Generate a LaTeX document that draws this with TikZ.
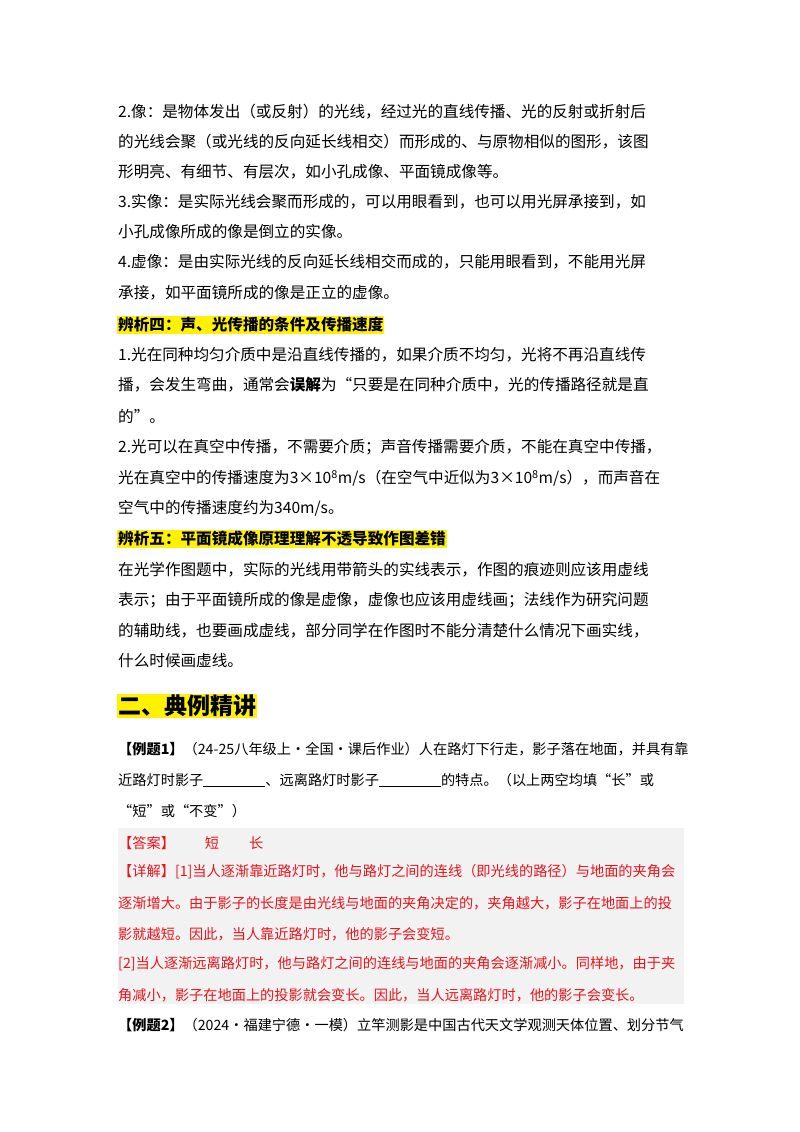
\documentclass[tikz,border=0pt]{standalone}
\usepackage{fontspec}
\setmainfont{Noto Sans CJK SC}
\newfontfamily\cjk{Noto Sans CJK SC}
\definecolor{ansred}{HTML}{E8141A}
\definecolor{boxgray}{HTML}{F2F2F2}
\tikzset{ln/.style={anchor=west,inner sep=0pt,font=\fontsize{15.6}{18}\selectfont},
 sm/.style={anchor=west,inner sep=0pt,font=\fontsize{14.2}{17}\selectfont},
 hl/.style={anchor=west,inner sep=1pt,fill=yellow,font=\fontsize{15.6}{18}\selectfont\bfseries},
 red/.style={text=ansred}}
\newcommand{\blank}{\rule[-2pt]{62pt}{0.9pt}}
\begin{document}
\begin{tikzpicture}[x=1pt,y=-1pt]
\useasboundingbox[fill=white] (0,0) rectangle (800,1132);
\node[ln] (l1) at (118,112) {2.像：是物体发出（或反射）的光线，经过光的直线传播、光的反射或折射后};
\node[ln] (l2) at (118,142) {的光线会聚（或光线的反向延长线相交）而形成的、与原物相似的图形，该图};
\node[ln] (l3) at (118,172) {形明亮、有细节、有层次，如小孔成像、平面镜成像等。};
\node[ln] (l4) at (118,202) {3.实像：是实际光线会聚而形成的，可以用眼看到，也可以用光屏承接到，如};
\node[ln] (l5) at (118,232) {小孔成像所成的像是倒立的实像。};
\node[ln] (l6) at (118,262) {4.虚像：是由实际光线的反向延长线相交而成的，只能用眼看到，不能用光屏};
\node[ln] (l7) at (118,293) {承接，如平面镜所成的像是正立的虚像。};
\node[hl] (h4) at (117,325) {辨析四：声、光传播的条件及传播速度};
\node[ln] (l8) at (118,355) {1.光在同种均匀介质中是沿直线传播的，如果介质不均匀，光将不再沿直线传};
\node[ln] (l9) at (118,385) {播，会发生弯曲，通常会\textbf{误解}为“只要是在同种介质中，光的传播路径就是直};
\node[ln] (l10) at (118,416) {的”。};
\node[ln] (l11) at (118,447) {2.光可以在真空中传播，不需要介质；声音传播需要介质，不能在真空中传播，};
\node[ln] (l12) at (118,478) {光在真空中的传播速度为3×10\textsuperscript{8}m/s（在空气中近似为3×10\textsuperscript{8}m/s），而声音在};
\node[ln] (l13) at (118,508) {空气中的传播速度约为340m/s。};
\node[hl] (h5) at (117,539) {辨析五：平面镜成像原理理解不透导致作图差错};
\node[ln] (l14) at (118,570) {在光学作图题中，实际的光线用带箭头的实线表示，作图的痕迹则应该用虚线};
\node[ln] (l15) at (118,600) {表示；由于平面镜所成的像是虚像，虚像也应该用虚线画；法线作为研究问题};
\node[ln] (l16) at (118,631) {的辅助线，也要画成虚线，部分同学在作图时不能分清楚什么情况下画实线，};
\node[ln] (l17) at (118,661) {什么时候画虚线。};
\node[anchor=west,inner sep=1pt,fill=yellow,font=\fontsize{23}{26}\selectfont\bfseries] (h2) at (117,706) {二、典例精讲};
\node[sm] (e1) at (118,749) {\textbf{【例题1】}（24-25八年级上·全国·课后作业）人在路灯下行走，影子落在地面，并具有靠};
\node[sm] (e2) at (118,780) {近路灯时影子\blank、远离路灯时影子\blank 的特点。（以上两空均填“长”或};
\node[sm] (e3) at (118,811) {“短”或“不变”）};
\fill[boxgray] (118,828) rectangle (684,1004);
\node[sm,red] (a1) at (118,843) {【答案】\hspace{30pt}短\hspace{30pt}长};
\node[sm,red] (a2) at (118,872) {【详解】[1]当人逐渐靠近路灯时，他与路灯之间的连线（即光线的路径）与地面的夹角会};
\node[sm,red] (a3) at (118,903) {逐渐增大。由于影子的长度是由光线与地面的夹角决定的，夹角越大，影子在地面上的投};
\node[sm,red] (a4) at (118,934) {影就越短。因此，当人靠近路灯时，他的影子会变短。};
\node[sm,red] (a5) at (118,964) {[2]当人逐渐远离路灯时，他与路灯之间的连线与地面的夹角会逐渐减小。同样地，由于夹};
\node[sm,red] (a6) at (118,995) {角减小，影子在地面上的投影就会变长。因此，当人远离路灯时，他的影子会变长。};
\node[sm] (e4) at (118,1025) {\textbf{【例题2】}（2024·福建宁德·一模）立竿测影是中国古代天文学观测天体位置、划分节气};
\end{tikzpicture}
\end{document}
